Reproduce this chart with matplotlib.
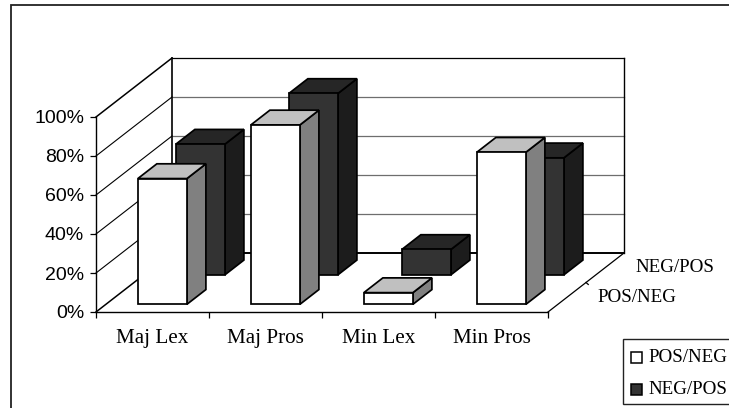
import matplotlib
matplotlib.use("Agg")
import matplotlib.pyplot as plt
from matplotlib.patches import Polygon, Rectangle
from matplotlib.lines import Line2D

categories = ["Maj Lex", "Maj Pros", "Min Lex", "Min Pros"]
series_names = ["POS/NEG", "NEG/POS"]
pos_neg = [64.5, 92, 6, 78]
neg_pos = [67, 93, 13, 60]
y_ticks = [0, 20, 40, 60, 80, 100]

W, H = 729, 408
fig = plt.figure(figsize=(W / 100, H / 100), dpi=100, facecolor="white")
L, R, B, T = 96, 548, 312, 117
ax = fig.add_axes([L / W, 1 - B / H, (R - L) / W, (B - T) / H])
ax.set_xlim(0, 4)
ax.set_ylim(0, 100)
ax.patch.set_visible(False)

# oblique depth projection: one unit of depth in category / percent units
DX = 76 / ((R - L) / 4)
DY = 59 / ((B - T) / 100)


def pr(x, d, v):
    return (x + d * DX, v + d * DY)


def poly(pts, fc, z, lw=1.25):
    ax.add_patch(Polygon(pts, closed=True, facecolor=fc, edgecolor="black",
                         linewidth=lw, zorder=z, clip_on=False, joinstyle="miter"))


def line(a, b, lw=1.0, color="black", z=1):
    ax.add_line(Line2D([a[0], b[0]], [a[1], b[1]], color=color, linewidth=lw,
                       zorder=z, clip_on=False))


# walls and floor
for v in y_ticks:
    line(pr(0, 0, v), pr(0, 1, v), lw=1.1 if v in (0, 100) else 0.8)
    if v > 0:
        line(pr(0, 1, v), pr(4, 1, v), lw=0.9, color="#6e6e6e" if v < 100 else "black")
line(pr(0, 1, 0), pr(4, 1, 0), lw=1.4)
line(pr(0, 1, 0), pr(0, 1, 100), lw=1.2)
line(pr(4, 1, 0), pr(4, 1, 100), lw=1.0)
line(pr(4, 0, 0), pr(4, 1, 0), lw=0.9)

BAR_W = 0.434
BAR_D = 0.25
series = [
    (neg_pos, 0.63, "#333333", "#262626", "#1c1c1c", 3),
    (pos_neg, 0.13, "#ffffff", "#c0c0c0", "#808080", 5),
]
for vals, d0, front, top, side, z in series:
    for i, v in enumerate(vals):
        x0 = i + 0.5 - BAR_W / 2
        x1 = x0 + BAR_W
        d1 = d0 + BAR_D
        zi = z + i * 0.1
        poly([pr(x1, d0, 0), pr(x1, d1, 0), pr(x1, d1, v), pr(x1, d0, v)], side, zi)
        poly([pr(x0, d0, v), pr(x1, d0, v), pr(x1, d1, v), pr(x0, d1, v)], top, zi)
        poly([pr(x0, d0, 0), pr(x1, d0, 0), pr(x1, d0, v), pr(x0, d0, v)], front, zi + 0.05)

# axes
for s in ("top", "right"):
    ax.spines[s].set_visible(False)
for s in ("left", "bottom"):
    ax.spines[s].set_linewidth(1.0)
ax.set_yticks(y_ticks)
ax.set_yticklabels([f"{v}%" for v in y_ticks], family="Liberation Sans", fontsize=14)
ax.tick_params(axis="y", length=4, width=0.9, pad=4.5)
ax.set_xticks(range(5))
ax.set_xticklabels([])
ax.set_xticks([i + 0.5 for i in range(4)], minor=True)
ax.set_xticklabels(categories, minor=True, family="Liberation Serif", fontsize=15.2)
ax.tick_params(axis="x", which="major", length=4, width=0.9)
ax.tick_params(axis="x", which="minor", length=0, pad=12.5)

# depth-axis labels and tick
mid = pr(4, 0.5, 0)
line(mid, (mid[0] + 0.02, mid[1] - 1), lw=0.9)
for name, d in zip(series_names, [0.25, 0.75]):
    x, y = pr(4, d, 0)
    ax.text(x + 0.27, y + 0.1, name, family="Liberation Serif", fontsize=13.7,
            ha="left", va="center", clip_on=False)

# outer frame: its right and bottom sides lie beyond the picture
fig.add_artist(Rectangle((11.5 / W, 1 - 420 / H), 740 / W, 415 / H, transform=fig.transFigure,
                         fill=False, edgecolor="#222222", linewidth=1.3))

# legend, cut by the picture's right edge
fig.add_artist(Rectangle((622.5 / W, 1 - 403.5 / H), 115 / W, 64.5 / H, transform=fig.transFigure,
                         facecolor="white", edgecolor="#222222", linewidth=1.0, zorder=10))
for name, col, yy in zip(series_names, ["#ffffff", "#333333"], [357, 389]):
    fig.add_artist(Rectangle((630.5 / W, 1 - (yy + 6) / H), 11.5 / W, 11.5 / H, transform=fig.transFigure,
                             facecolor=col, edgecolor="black", linewidth=1.1, zorder=11))
    fig.text(648 / W, 1 - yy / H, name, family="Liberation Serif", fontsize=13.7,
             ha="left", va="center", zorder=11)

fig.savefig("out.png", dpi=100)
